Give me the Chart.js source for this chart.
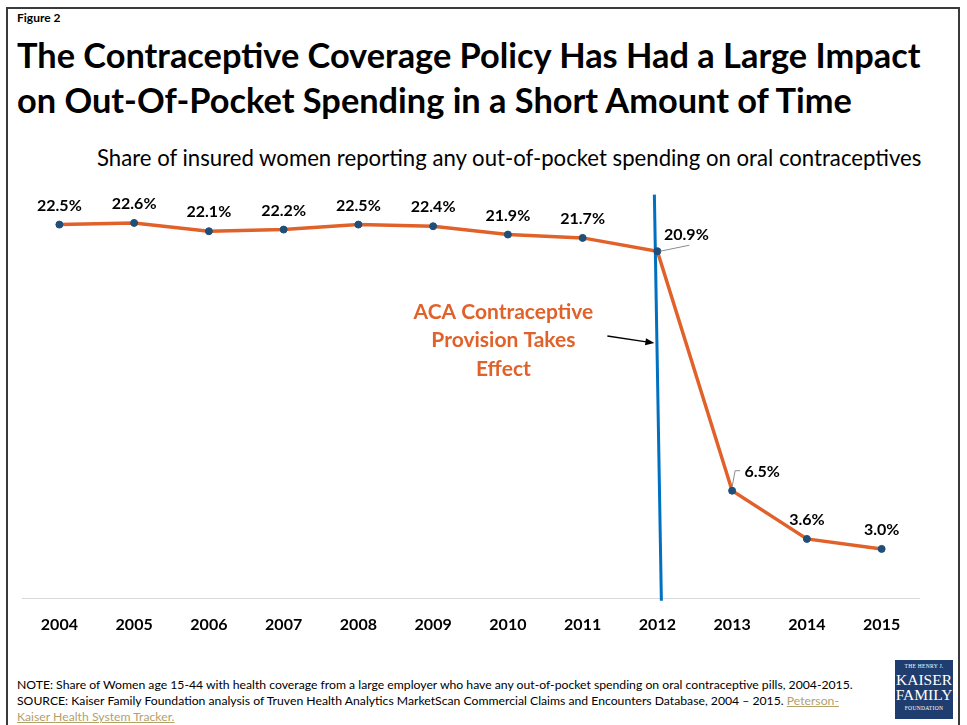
<!DOCTYPE html>
<html>
<head>
<meta charset="utf-8">
<script src="https://cdn.jsdelivr.net/npm/chart.js@4"></script>
<style>
  body { margin: 0; width: 967px; height: 725px; background: #fff; position: relative; overflow: hidden; font-family: Lato, "Open Sans", sans-serif; }
  .frame { position: absolute; left: 6px; top: 7px; width: 950px; height: 740px; border: 2px solid #3a3a3a; }
  .txt { position: absolute; white-space: nowrap; color: #000; line-height: 1; }
  #fig { left: 17px; top: 12px; font-size: 12px; font-weight: bold; }
  #t1 { left: 17px; top: 38px; font-size: 32px; font-weight: bold; }
  #t2 { left: 17px; top: 83px; font-size: 32px; font-weight: bold; }
  #sub { left: 97px; top: 147px; font-size: 20px; }
  .note { left: 17px; font-size: 11.5px; }
  #n1 { top: 679px; }
  #n2 { top: 695px; }
  #n3 { top: 711px; }
  .link { color: #b3a16b; text-decoration: underline; }
  #chartBox { position: absolute; left: 0; top: 170px; width: 967px; height: 486px; }
  .logo { position: absolute; left: 895px; top: 660px; width: 58px; height: 59px; background: #1f3d6e; color: #fff; font-family: "Liberation Serif", "DejaVu Serif", serif; text-align: center; line-height: 1; }
  .logo .sm { font-size: 5.5px; letter-spacing: 0.3px; }
  .logo .big { font-size: 15.5px; }
</style>
</head>
<body>
<div class="frame"></div>
<div class="txt" id="fig">Figure 2</div>
<div class="txt" id="t1">The Contraceptive Coverage Policy Has Had a Large Impact</div>
<div class="txt" id="t2">on Out-Of-Pocket Spending in a Short Amount of Time</div>
<div class="txt" id="sub">Share of insured women reporting any out-of-pocket spending on oral contraceptives</div>
<div id="chartBox"><canvas id="outOfPocketChart" width="967" height="486"></canvas></div>
<div class="txt note" id="n1">NOTE: Share of Women age 15-44 with health coverage from a large employer who have any out-of-pocket spending on oral contraceptive pills, 2004-2015.</div>
<div class="txt note" id="n2">SOURCE: Kaiser Family Foundation analysis of Truven Health Analytics MarketScan Commercial Claims and Encounters Database, 2004 – 2015. <span class="link">Peterson-</span></div>
<div class="txt note" id="n3"><span class="link">Kaiser Health System Tracker.</span></div>
<div class="logo">
  <div class="sm" style="padding-top:4px">THE HENRY J.</div>
  <div class="big" style="margin-top:2px">KAISER</div>
  <div class="big">FAMILY</div>
  <div class="sm" style="margin-top:3px">FOUNDATION</div>
</div>
<script>
// data
const years = ['2004', '2005', '2006', '2007', '2008', '2009', '2010', '2011', '2012', '2013', '2014', '2015'];
const shareWithSpending = [22.5, 22.6, 22.1, 22.2, 22.5, 22.4, 21.9, 21.7, 20.9, 6.5, 3.6, 3.0];
const policyYear = '2012';
const annotationLines = ['ACA Contraceptive', 'Provision Takes', 'Effect'];

// squeeze/stretch text to the widths measured on the original
function fitWidth(id, target) {
    const el = document.getElementById(id);
    const size = parseFloat(getComputedStyle(el).fontSize);
    el.style.fontSize = (size * target / el.offsetWidth) + 'px';
}
fitWidth('t1', 904);
document.getElementById('t2').style.fontSize = document.getElementById('t1').style.fontSize;
fitWidth('sub', 825);
fitWidth('n1', 836);
document.getElementById('n2').style.fontSize = document.getElementById('n1').style.fontSize;
document.getElementById('n3').style.fontSize = document.getElementById('n1').style.fontSize;

const ORANGE = '#e0622a';
const BLUE = '#0070c0';
const DOT = '#1f4e79';

const extrasPlugin = {
    id: 'extras',
    beforeDatasetsDraw(chart) {
        const ctx = chart.ctx;
        const x = chart.scales.x;
        const y = chart.scales.y;
        const px = x.getPixelForValue(years.indexOf(policyYear));
        // policy line
        ctx.save();
        ctx.strokeStyle = BLUE;
        ctx.lineWidth = 3;
        ctx.beginPath();
        ctx.moveTo(px - 3, y.getPixelForValue(24.3));
        ctx.lineTo(px + 4, y.bottom + 2);
        ctx.stroke();
        ctx.restore();
    },
    afterDatasetsDraw(chart) {
        const ctx = chart.ctx;
        const meta = chart.getDatasetMeta(0);
        const x = chart.scales.x;
        ctx.save();
        ctx.font = 'bold 16px Lato, "Open Sans", sans-serif';
        ctx.fillStyle = '#000';
        ctx.textAlign = 'center';
        ctx.textBaseline = 'middle';
        meta.data.forEach((pt, i) => {
            const label = shareWithSpending[i].toFixed(1) + '%';
            if (years[i] === '2012') {
                ctx.strokeStyle = '#8c8c8c';
                ctx.lineWidth = 1;
                ctx.beginPath();
                ctx.moveTo(pt.x + 3, pt.y);
                ctx.lineTo(pt.x + 32, pt.y - 6);
                ctx.stroke();
                ctx.fillText(label, pt.x + 29, pt.y - 16);
            } else if (years[i] === '2013') {
                ctx.strokeStyle = '#8c8c8c';
                ctx.lineWidth = 1;
                ctx.beginPath();
                ctx.moveTo(pt.x, pt.y - 4);
                ctx.lineTo(pt.x + 3, pt.y - 20);
                ctx.lineTo(pt.x + 8, pt.y - 20);
                ctx.stroke();
                ctx.fillText(label, pt.x + 30, pt.y - 19);
            } else {
                ctx.fillText(label, pt.x, pt.y - 19);
            }
        });
        // annotation
        const px = x.getPixelForValue(years.indexOf(policyYear));
        ctx.fillStyle = ORANGE;
        ctx.font = 'bold 21px Lato, "Open Sans", sans-serif';
        annotationLines.forEach((line, i) => {
            ctx.fillText(line, px - 154, 142 + i * 28.5);
        });
        // arrow
        const ax0 = px - 50, ay0 = 166, ax1 = px - 3, ay1 = 173;
        ctx.strokeStyle = '#000';
        ctx.fillStyle = '#000';
        ctx.lineWidth = 1.3;
        ctx.beginPath();
        ctx.moveTo(ax0, ay0);
        ctx.lineTo(ax1 - 8, ay1 - 1.2);
        ctx.stroke();
        const ang = Math.atan2(ay1 - ay0, ax1 - ax0);
        ctx.beginPath();
        ctx.moveTo(ax1, ay1);
        ctx.lineTo(ax1 - 9 * Math.cos(ang) + 3.5 * Math.sin(ang), ay1 - 9 * Math.sin(ang) - 3.5 * Math.cos(ang));
        ctx.lineTo(ax1 - 9 * Math.cos(ang) - 3.5 * Math.sin(ang), ay1 - 9 * Math.sin(ang) + 3.5 * Math.cos(ang));
        ctx.closePath();
        ctx.fill();
        ctx.restore();
    }
};

new Chart(document.getElementById('outOfPocketChart'), {
    type: 'line',
    data: {
        labels: years,
        datasets: [{
            label: 'Share of insured women',
            data: shareWithSpending,
            borderColor: ORANGE,
            borderWidth: 3.5,
            tension: 0,
            pointRadius: 3.5,
            pointBackgroundColor: DOT,
            pointBorderColor: DOT,
            pointBorderWidth: 1
        }]
    },
    options: {
        responsive: false,
        animation: false,
        layout: { padding: { left: 22, right: 48, top: 13, bottom: 14 } },
        plugins: {
            legend: { display: false },
            tooltip: { enabled: false }
        },
        scales: {
            x: {
                offset: true,
                grid: { display: false },
                border: { display: true, color: '#d9d9d9', width: 1 },
                ticks: {
                    color: '#000',
                    padding: 8,
                    font: { family: 'Lato, "Open Sans", sans-serif', size: 16, weight: 'bold' }
                }
            },
            y: {
                display: false,
                min: 0,
                max: 25
            }
        }
    },
    plugins: [extrasPlugin]
});
</script>
</body>
</html>
